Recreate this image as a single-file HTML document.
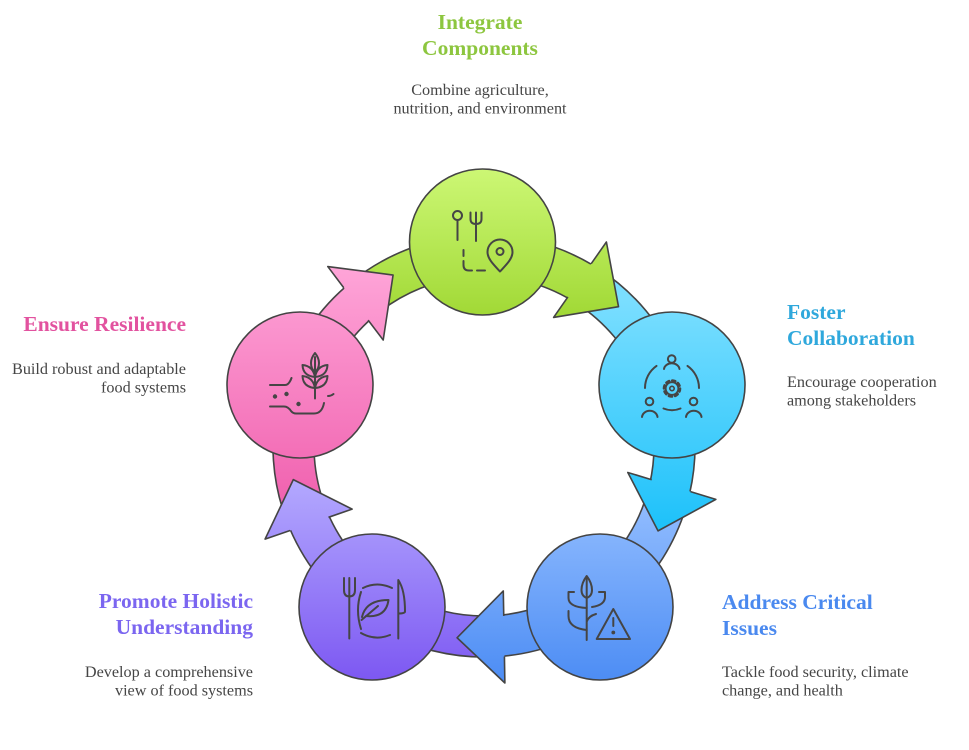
<!DOCTYPE html>
<html>
<head>
<meta charset="utf-8">
<style>
  html, body { margin: 0; padding: 0; background: #ffffff; }
  body { width: 969px; height: 750px; overflow: hidden; }
  svg { display: block; }
  .t { font-family: "Liberation Serif", "Times New Roman", serif; font-weight: bold; font-size: 21.5px; }
  .d { font-family: "Liberation Serif", "Times New Roman", serif; font-size: 16.2px; fill: #454545; }
</style>
</head>
<body>
<svg width="969" height="750" viewBox="0 0 969 750" xmlns="http://www.w3.org/2000/svg">
  <defs>
    <!-- arrow gradients (counter-rotated so they stay vertical on screen) -->
    <linearGradient id="aG" gradientUnits="userSpaceOnUse" x1="0" y1="170" x2="0" y2="320">
      <stop offset="0" stop-color="#ccf774"/><stop offset="1" stop-color="#a0d834"/>
    </linearGradient>
    <linearGradient id="aB" gradientUnits="userSpaceOnUse" x1="0" y1="300" x2="0" y2="540" gradientTransform="rotate(-72 484 446)">
      <stop offset="0" stop-color="#7adeff"/><stop offset="1" stop-color="#19c0fa"/>
    </linearGradient>
    <linearGradient id="aB2" gradientUnits="userSpaceOnUse" x1="0" y1="500" x2="0" y2="680" gradientTransform="rotate(-144 484 446)">
      <stop offset="0" stop-color="#92bdff"/><stop offset="1" stop-color="#4d8df4"/>
    </linearGradient>
    <linearGradient id="aP" gradientUnits="userSpaceOnUse" x1="0" y1="470" x2="0" y2="680" gradientTransform="rotate(-216 484 446)">
      <stop offset="0" stop-color="#b6adff"/><stop offset="1" stop-color="#7d58f2"/>
    </linearGradient>
    <linearGradient id="aK" gradientUnits="userSpaceOnUse" x1="0" y1="255" x2="0" y2="510" gradientTransform="rotate(-288 484 446)">
      <stop offset="0" stop-color="#ffa8da"/><stop offset="1" stop-color="#f060ae"/>
    </linearGradient>
    <!-- circle gradients -->
    <linearGradient id="cG" gradientUnits="userSpaceOnUse" x1="0" y1="170" x2="0" y2="320">
      <stop offset="0" stop-color="#ccf774"/><stop offset="1" stop-color="#a0d834"/>
    </linearGradient>
    <linearGradient id="cB" gradientUnits="userSpaceOnUse" x1="0" y1="300" x2="0" y2="540">
      <stop offset="0" stop-color="#7adeff"/><stop offset="1" stop-color="#19c0fa"/>
    </linearGradient>
    <linearGradient id="cB2" gradientUnits="userSpaceOnUse" x1="0" y1="500" x2="0" y2="680">
      <stop offset="0" stop-color="#92bdff"/><stop offset="1" stop-color="#4d8df4"/>
    </linearGradient>
    <linearGradient id="cP" gradientUnits="userSpaceOnUse" x1="0" y1="470" x2="0" y2="680">
      <stop offset="0" stop-color="#b6adff"/><stop offset="1" stop-color="#7d58f2"/>
    </linearGradient>
    <linearGradient id="cK" gradientUnits="userSpaceOnUse" x1="0" y1="255" x2="0" y2="510">
      <stop offset="0" stop-color="#ffa8da"/><stop offset="1" stop-color="#f060ae"/>
    </linearGradient>
  </defs>

  <!-- BANDS -->
  <g stroke="#444" stroke-width="1.6" stroke-linejoin="round">
    <path d="M351.2,282.0 A211,211 0 0 1 592.7,265.1 L571.6,300.3 A170,170 0 0 0 377.0,313.9 Z" fill="url(#aG)"/>
    <path d="M351.2,282.0 A211,211 0 0 1 592.7,265.1 L571.6,300.3 A170,170 0 0 0 377.0,313.9 Z" fill="url(#aB)" transform="rotate(72 484 446)"/>
    <path d="M351.2,282.0 A211,211 0 0 1 592.7,265.1 L571.6,300.3 A170,170 0 0 0 377.0,313.9 Z" fill="url(#aB2)" transform="rotate(144 484 446)"/>
    <path d="M351.2,282.0 A211,211 0 0 1 592.7,265.1 L571.6,300.3 A170,170 0 0 0 377.0,313.9 Z" fill="url(#aP)" transform="rotate(216 484 446)"/>
    <path d="M351.2,282.0 A211,211 0 0 1 592.7,265.1 L571.6,300.3 A170,170 0 0 0 377.0,313.9 Z" fill="url(#aK)" transform="rotate(288 484 446)"/>
  </g>

  <!-- HEADS -->
  <g stroke="#444" stroke-width="1.6" stroke-linejoin="round">
    <g>
      <path d="M606.4,242.0 L618.5,306.7 L553.6,317.4 Z" fill="url(#aG)" stroke="none"/>
      <path d="M591.2,263.7 L606.4,242.0 L618.5,306.7 L553.6,317.4 L567.9,296.9" fill="none"/>
    </g>
    <g transform="rotate(72 484 446)">
      <path d="M606.4,242.0 L618.5,306.7 L553.6,317.4 Z" fill="url(#aB)" stroke="none"/>
      <path d="M591.2,263.7 L606.4,242.0 L618.5,306.7 L553.6,317.4 L567.9,296.9" fill="none"/>
    </g>
    <g transform="rotate(144 484 446)">
      <path d="M606.4,242.0 L618.5,306.7 L553.6,317.4 Z" fill="url(#aB2)" stroke="none"/>
      <path d="M591.2,263.7 L606.4,242.0 L618.5,306.7 L553.6,317.4 L567.9,296.9" fill="none"/>
    </g>
    <g transform="rotate(216 484 446)">
      <path d="M606.4,242.0 L618.5,306.7 L553.6,317.4 Z" fill="url(#aP)" stroke="none"/>
      <path d="M591.2,263.7 L606.4,242.0 L618.5,306.7 L553.6,317.4 L567.9,296.9" fill="none"/>
    </g>
    <g transform="rotate(288 484 446)">
      <path d="M606.4,242.0 L618.5,306.7 L553.6,317.4 Z" fill="url(#aK)" stroke="none"/>
      <path d="M591.2,263.7 L606.4,242.0 L618.5,306.7 L553.6,317.4 L567.9,296.9" fill="none"/>
    </g>
  </g>

  <!-- CIRCLES -->
  <g stroke="#444" stroke-width="1.6">
    <circle cx="482.5" cy="242" r="73" fill="url(#cG)"/>
    <circle cx="672" cy="385" r="73" fill="url(#cB)"/>
    <circle cx="600" cy="607" r="73" fill="url(#cB2)"/>
    <circle cx="372" cy="607" r="73" fill="url(#cP)"/>
    <circle cx="300" cy="385" r="73" fill="url(#cK)"/>
  </g>

  <!-- ICONS -->
  <g stroke="#454545" stroke-width="2" fill="none" stroke-linecap="round" stroke-linejoin="round">
    <!-- green: spoon, fork, path, pin -->
    <circle cx="457.5" cy="215.5" r="4.5"/>
    <line x1="457.5" y1="220" x2="457.5" y2="240"/>
    <path d="M470.5,212.5 V219 Q470.5,224 476,224 Q481.5,224 481.5,219 V212.5 M476,212.5 V241"/>
    <path d="M463.5,250 V256 M463.5,261 V265 Q463.5,270.5 469,270.5 H472 M477,270.5 H485"/>
    <path d="M500,271.5 C494,265 487.5,259 487.5,252 A12.5,12.5 0 0 1 512.5,252 C512.5,259 506,265 500,271.5 Z"/>
    <circle cx="500" cy="251.5" r="3.5"/>

    <!-- blue: collaboration -->
    <circle cx="671.7" cy="359" r="3.8"/>
    <path d="M664,369 A7.8,6.5 0 0 1 679.5,369"/>
    <path d="M645,388 A27,27 0 0 1 656.5,365.9"/>
    <path d="M687.5,365.9 A27,27 0 0 1 699,388"/>
    <circle cx="672" cy="388.5" r="6.3" stroke-width="1.8"/>
    <circle cx="672" cy="388.5" r="8" stroke-width="2.6" stroke-dasharray="3.1 3.18"/>
    <circle cx="672" cy="388.5" r="2.2" stroke-width="1.6"/>
    <circle cx="649.5" cy="401.5" r="3.8"/>
    <path d="M642,417 A7.8,7 0 0 1 657.5,417"/>
    <circle cx="693.5" cy="401.5" r="3.8"/>
    <path d="M686,417 A7.8,7 0 0 1 701.5,417"/>
    <path d="M663.5,408.5 Q672,412 680.5,408.5"/>

    <!-- bottom-right: wheat + warning -->
    <path d="M586.7,577 V640"/>
    <path d="M586.7,576 Q592,583 592,590 Q592,596 586.7,598 Q581.5,596 581.5,590 Q581.5,583 586.7,576 Z"/>
    <path d="M568.5,592 H574 M568.5,592 V598 Q568.5,607 586.7,608"/>
    <path d="M568.5,611 V616 Q568.5,628 586.7,630"/>
    <path d="M605,592 H599 M605,592 V597 Q605,605 592,607"/>
    <path d="M596,614 Q589,616 587,621"/>
    <path d="M613.3,609 L630,639 H596.7 Z"/>
    <path d="M613.3,618 V626"/>
    <circle cx="613.3" cy="632.5" r="0.9" fill="#454545"/>

    <!-- purple: fork, plate with leaf, knife -->
    <path d="M344,578 V590 Q344,596.5 349.3,596.5 Q355,596.5 355,590 V578 M349.3,578 V638.5"/>
    <path d="M363,588 Q377,581 392,588"/>
    <path d="M361,592 Q355,610 361,629"/>
    <path d="M361,633 Q375,641 390,635"/>
    <path d="M362,617 Q366,600 388.5,600 Q386,618 366,616"/>
    <path d="M361.5,620 L378,606"/>
    <path d="M398.3,638.5 V580 Q405,590 405,611.5 Q405,613.5 398.3,613.5"/>

    <!-- pink: wheat & soil -->
    <path d="M315,357 V398.5"/>
    <path d="M315,353 Q319,358 319,363 Q319,369 315,372 Q311,369 311,363 Q311,358 315,353 Z"/>
    <path d="M315,377 Q303,376 302.5,365 Q313,366 315,377 Z"/>
    <path d="M315,388 Q303,387 302.5,376 Q313,377 315,388 Z"/>
    <path d="M315,377 Q327,376 327.5,365 Q317,366 315,377 Z"/>
    <path d="M315,388 Q327,387 327.5,376 Q317,377 315,388 Z"/>
    <path d="M270,385 H285 Q289,385 291.5,378"/>
    <path d="M270,406.5 H284 Q288,406.5 291,411 Q293,413.5 296,413.5 H314 Q322,413.5 324,403"/>
    <path d="M328,396 Q331,396 333.5,394"/>
    <circle cx="275" cy="396.5" r="1.2" fill="#454545"/>
    <circle cx="286.5" cy="394" r="1.2" fill="#454545"/>
    <circle cx="298.5" cy="404" r="1.2" fill="#454545"/>
  </g>

  <!-- TEXT -->
  <text class="t" x="480" y="29" text-anchor="middle" fill="#8dc63f">Integrate</text>
  <text class="t" x="480" y="55" text-anchor="middle" fill="#8dc63f">Components</text>
  <text class="d" x="480" y="95" text-anchor="middle">Combine agriculture,</text>
  <text class="d" x="480" y="113.5" text-anchor="middle">nutrition, and environment</text>

  <text class="t" x="186" y="331" text-anchor="end" fill="#e2529f">Ensure Resilience</text>
  <text class="d" x="186" y="374" text-anchor="end">Build robust and adaptable</text>
  <text class="d" x="186" y="392.5" text-anchor="end">food systems</text>

  <text class="t" x="787" y="319" fill="#2fa8dc">Foster</text>
  <text class="t" x="787" y="345" fill="#2fa8dc">Collaboration</text>
  <text class="d" x="787" y="387">Encourage cooperation</text>
  <text class="d" x="787" y="405.5">among stakeholders</text>

  <text class="t" x="722" y="609" fill="#4a89ef">Address Critical</text>
  <text class="t" x="722" y="635" fill="#4a89ef">Issues</text>
  <text class="d" x="722" y="677">Tackle food security, climate</text>
  <text class="d" x="722" y="695.5">change, and health</text>

  <text class="t" x="253" y="608" text-anchor="end" fill="#7b66f0">Promote Holistic</text>
  <text class="t" x="253" y="634" text-anchor="end" fill="#7b66f0">Understanding</text>
  <text class="d" x="253" y="677" text-anchor="end">Develop a comprehensive</text>
  <text class="d" x="253" y="695.5" text-anchor="end">view of food systems</text>
</svg>
</body>
</html>
